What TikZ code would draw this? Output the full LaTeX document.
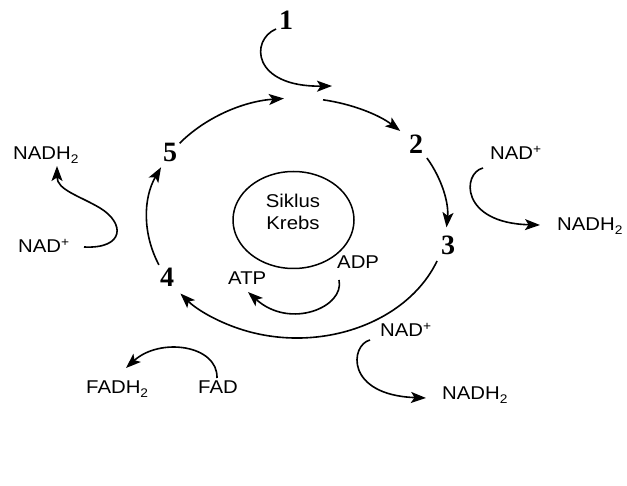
\documentclass[tikz,border=0pt]{standalone}
\usepackage{graphicx}
\usepackage{fontspec}
\setmainfont{Liberation Serif}
\newfontfamily\labfont{Liberation Sans}
\usetikzlibrary{arrows.meta,calc,shapes.geometric}
\newcommand{\lbl}[1]{\scalebox{1.1}[1]{#1}}
\newcommand{\sbs}[1]{\raisebox{-4pt}{\fontsize{12.5}{12.5}\selectfont #1}}
\newcommand{\sps}[1]{\raisebox{6pt}{\fontsize{12.5}{12.5}\selectfont #1}}
\tikzset{
  chem/.style={font=\labfont\fontsize{18.5}{20}\selectfont, inner sep=0pt, anchor=base west},
  num/.style={font=\bfseries\fontsize{28}{30}\selectfont, inner sep=0pt},
  flow/.style={line width=1.6pt, -{Stealth[length=15pt,width=11pt,inset=3.5pt]}},
  ring/.style={line width=1.5pt}
}
\begin{document}
\begin{tikzpicture}[x=1pt,y=1pt]
\useasboundingbox (0,0) rectangle (627,485);
\fill[white] (0,0) rectangle (627,485);

% numbers
\node[num] (n1) at (286,465) {1};
\node[num] (n2) at (416,341) {2};
\node[num] (n3) at (448,240) {3};
\node[num] (n4) at (167,208) {4};
\node[num] (n5) at (170,333) {5};

% inner Krebs circle
\node[ellipse, draw, ring, minimum width=121pt, minimum height=97pt, inner sep=0pt] (krebs) at (293.5,265) {};
\node[font=\labfont\fontsize{18.5}{22}\selectfont, align=center, inner sep=0pt] (krebstxt) at (293,273) {\lbl{Siklus}\\\lbl{Krebs}};

% main cycle
\coordinate (C) at (297,267);
\coordinate (p5) at ($(C)+(141.5:150pt and 120pt)$);
\coordinate (pt) at ($(C)+(80:150pt and 120pt)$);
\coordinate (p2) at ($(C)+(30:150pt and 120pt)$);
\coordinate (p3) at ($(C)+(-21:150pt and 120pt)$);
\coordinate (p4) at ($(C)+(203:150pt and 120pt)$);
\draw[flow] (p5) arc[start angle=141.5, end angle=95, x radius=150, y radius=120];
\draw[flow] (pt) arc[start angle=80, end angle=46.5, x radius=150, y radius=120];
\draw[flow] (p2) arc[start angle=30, end angle=-4.5, x radius=150, y radius=120];
\draw[flow] (p3) arc[start angle=-21, end angle=-141, x radius=150, y radius=120];
\draw[flow] (p4) arc[start angle=203, end angle=155, x radius=150, y radius=120];

% labels
\node[chem] (nadhL) at (13,325) {\lbl{NADH\sbs{2}}};
\node[chem] (nadL) at (18,232) {\lbl{NAD\sps{+}}};
\node[chem] (nadR) at (490,325) {\lbl{NAD\sps{+}}};
\node[chem] (nadhR) at (557,254) {\lbl{NADH\sbs{2}}};
\node[chem] (adp) at (337,216) {\lbl{ADP}};
\node[chem] (atp) at (228,200) {\lbl{ATP}};
\node[chem] (fad) at (198,91) {\lbl{FAD}};
\node[chem] (fadh) at (86,91) {\lbl{FADH\sbs{2}}};
\node[chem] (nadB) at (380,148) {\lbl{NAD\sps{+}}};
\node[chem] (nadhB) at (442,85) {\lbl{NADH\sbs{2}}};

% side arrows
\coordinate (s1) at (276,456); \coordinate (e1) at (332,399);
\draw[flow] (s1) .. controls (250,445) and (252,398) .. (e1);

\coordinate (sR) at (483,317); \coordinate (eR) at (540,260);
\draw[flow] (sR) .. controls (462,312) and (460,262) .. (eR);

\coordinate (sL) at (84,238); \coordinate (mL) at (100,277); \coordinate (eL) at (57,319);
\draw[flow] (sL) .. controls (125,236) and (125,262) .. (mL) .. controls (80,289) and (57,295) .. (eL);

\coordinate (sA) at (339,205); \coordinate (eA) at (248,193);
\draw[flow] (sA) .. controls (345,178) and (290,155) .. (eA);

\coordinate (sF) at (217,107); \coordinate (eF) at (126,117);
\draw[flow] (sF) .. controls (218,140) and (160,148) .. (eF);

\coordinate (sB) at (370,145); \coordinate (eB) at (426,87);
\draw[flow] (sB) .. controls (350,140) and (345,90) .. (eB);
\end{tikzpicture}
\end{document}
